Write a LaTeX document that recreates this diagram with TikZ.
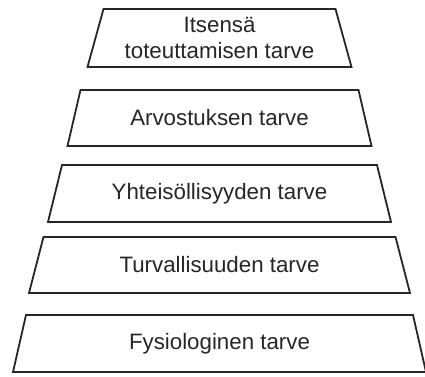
\documentclass[tikz,border=0pt]{standalone}
\usepackage{fontspec}
\setmainfont{Liberation Sans}

\begin{document}
\begin{tikzpicture}[x=1pt,y=-1pt,
  tier/.style={draw=black!85,line width=1.8pt,line join=miter},
  tiertext/.style={font=\fontsize{22.3}{26}\selectfont,align=center,text=black!85}]
  \useasboundingbox (0,0) rectangle (425,376);
  \foreach \nm/\ya/\yb/\wa/\wb/\txt in {
      selfreal/9/67/116/132/{Itsensä\\toteuttamisen tarve},
      esteem/90/146/139/152/{Arvostuksen tarve},
      social/165/222/157.5/171.5/{Yhteisöllisyyden tarve},
      safety/237/293/176/190.5/{Turvallisuuden tarve},
      physio/315/372/193.5/206.5/{Fysiologinen tarve}} {
    \draw[tier] (219.5-\wa,\ya) -- (219.5+\wa,\ya) -- (219.5+\wb,\yb) -- (219.5-\wb,\yb) -- cycle;
    \node[tiertext] (\nm) at (219.5,{(\ya+\yb)/2}) {\txt};
  }
\end{tikzpicture}
\end{document}
